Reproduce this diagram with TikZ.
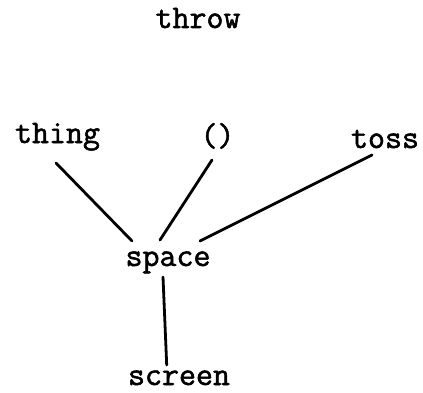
\documentclass[tikz,border=0pt]{standalone}
\usepackage{fontspec}
\setmonofont{Latin Modern Mono}[AutoFakeBold=1.6]
\usetikzlibrary{calc}
\begin{document}
\begin{tikzpicture}[x=1pt,y=1pt,
  lbl/.style={anchor=base,inner sep=0pt,font=\fontsize{33}{34}\selectfont\ttfamily\bfseries},
  conn/.style={line width=2.8pt,line cap=round}]
\useasboundingbox (0,0) rectangle (423,392);
\node[lbl] (throw) at (198,364) {throw};
\node[lbl] (thing) at (57.5,249) {thing};
\node[lbl] (unit) at (217.5,246) {()};
\node[lbl] (toss) at (385,244) {toss};
\node[lbl] (space) at (168,126) {space};
\node[lbl] (screen) at (179,7) {screen};
\draw[conn] ($(thing.base)+(-1.5,-20)$) -- ($(space.base)+(-36,25)$);
\draw[conn] ($(unit.base)+(-5.5,-14)$) -- ($(space.base)+(-8,26)$);
\draw[conn] ($(toss.base)+(-13,-7)$) -- ($(space.base)+(32,25)$);
\draw[conn] ($(space.base)+(-5,-11)$) -- ($(screen.base)+(-12.3,20)$);
\end{tikzpicture}
\end{document}
